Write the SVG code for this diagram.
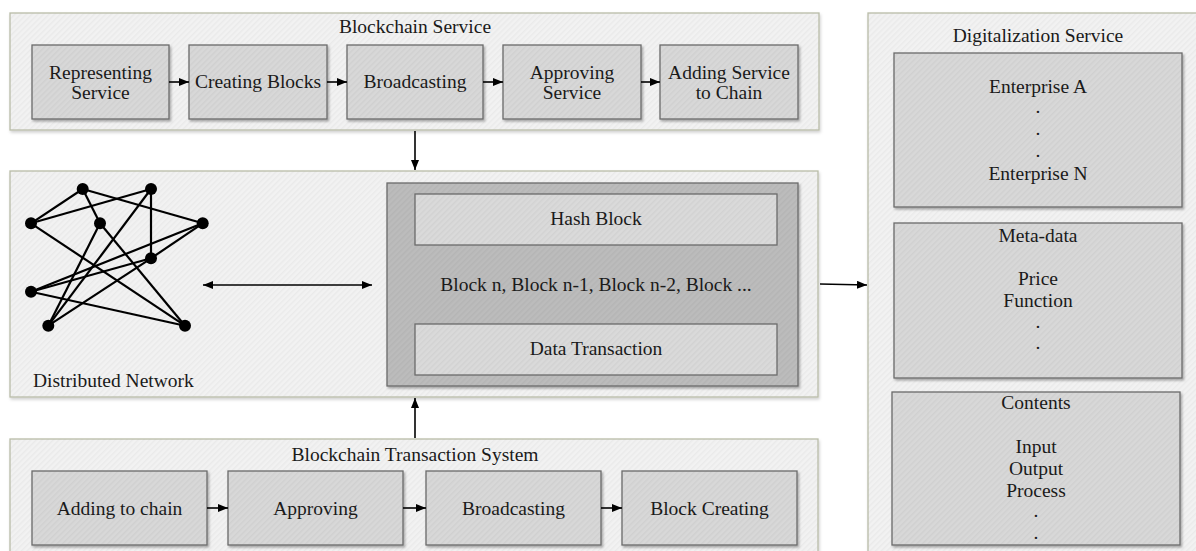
<svg xmlns="http://www.w3.org/2000/svg" width="1196" height="551" viewBox="0 0 1196 551">
  <defs>
    <style>
      text { font-family: "Liberation Serif", "Times New Roman", serif; font-size: 19.5px; fill: #1a1a1a; text-anchor: middle; }
      .panel { fill: url(#hatchLight); stroke: #b9bca8; stroke-width: 1.3; filter: url(#shadowSoft); }
      .box { fill: url(#hatchMid); stroke: #6a6a6a; stroke-width: 1.3; filter: url(#shadow); }
      .dark { fill: url(#hatchDark); stroke: #6a6a6a; stroke-width: 1.3; filter: url(#shadow); }
      .inner { fill: url(#hatchInner); stroke: #6a6a6a; stroke-width: 1.3; }
      .conn { stroke: #000; stroke-width: 1.6; fill: none; }
      .edge { stroke: #000; stroke-width: 2.2; }
      .vertex { fill: #000; }
    </style>
    <pattern id="hatchLight" width="4" height="4" patternUnits="userSpaceOnUse" patternTransform="rotate(45)">
      <rect width="4" height="4" fill="#f2f2f2"/>
      <rect width="1.5" height="4" fill="#eaeaea"/>
    </pattern>
    <pattern id="hatchMid" width="4" height="4" patternUnits="userSpaceOnUse" patternTransform="rotate(45)">
      <rect width="4" height="4" fill="#d8d8d8"/>
      <rect width="1.5" height="4" fill="#d0d0d0"/>
    </pattern>
    <pattern id="hatchDark" width="4" height="4" patternUnits="userSpaceOnUse" patternTransform="rotate(45)">
      <rect width="4" height="4" fill="#bcbcbc"/>
      <rect width="1.5" height="4" fill="#b5b5b5"/>
    </pattern>
    <pattern id="hatchInner" width="4" height="4" patternUnits="userSpaceOnUse" patternTransform="rotate(45)">
      <rect width="4" height="4" fill="#dadada"/>
      <rect width="1.5" height="4" fill="#d2d2d2"/>
    </pattern>
    <filter id="shadow" x="-5%" y="-5%" width="115%" height="125%">
      <feDropShadow dx="1.5" dy="2" stdDeviation="1.2" flood-color="#000" flood-opacity="0.3"/>
    </filter>
    <filter id="shadowSoft" x="-5%" y="-5%" width="115%" height="125%">
      <feDropShadow dx="1" dy="2" stdDeviation="1.5" flood-color="#000" flood-opacity="0.18"/>
    </filter>
    <marker id="arrow" viewBox="0 0 10 8" refX="10" refY="4" markerWidth="10" markerHeight="8" markerUnits="userSpaceOnUse" orient="auto-start-reverse">
      <path d="M0,0 L10,4 L0,8 z" fill="#000"/>
    </marker>
  </defs>

  <!-- Blockchain Service panel -->
  <g id="blockchain-service">
    <rect class="panel" x="10" y="13" width="809" height="117"/>
    <text x="415" y="33">Blockchain Service</text>
  </g>
  <g id="representing-service">
    <rect class="box" x="32" y="45" width="137" height="74"/>
    <text x="100.5" y="79">Representing</text>
    <text x="100.5" y="99">Service</text>
  </g>
  <g id="creating-blocks">
    <rect class="box" x="189" y="45" width="138" height="74"/>
    <text x="258" y="88">Creating Blocks</text>
  </g>
  <g id="broadcasting-top">
    <rect class="box" x="347" y="45" width="136" height="74"/>
    <text x="415" y="88">Broadcasting</text>
  </g>
  <g id="approving-service">
    <rect class="box" x="503" y="45" width="138" height="74"/>
    <text x="572" y="79">Approving</text>
    <text x="572" y="99">Service</text>
  </g>
  <g id="adding-service">
    <rect class="box" x="660" y="45" width="138" height="74"/>
    <text x="729" y="79">Adding Service</text>
    <text x="729" y="99">to Chain</text>
  </g>

  <!-- Distributed Network panel -->
  <g id="distributed-network">
    <rect class="panel" x="10" y="171" width="808" height="226"/>
    <text x="33" y="387" style="text-anchor:start">Distributed Network</text>
    <g id="network-graph">
      <line class="edge" x1="82.7" y1="189" x2="31" y2="223.3"/>
      <line class="edge" x1="82.7" y1="189" x2="100" y2="223.3"/>
      <line class="edge" x1="82.7" y1="189" x2="202.7" y2="223.3"/>
      <line class="edge" x1="151" y1="189" x2="31" y2="223.3"/>
      <line class="edge" x1="151" y1="189" x2="151" y2="258.3"/>
      <line class="edge" x1="151" y1="189" x2="48.3" y2="325.7"/>
      <line class="edge" x1="31" y1="223.3" x2="185" y2="325.7"/>
      <line class="edge" x1="100" y1="223.3" x2="48.3" y2="325.7"/>
      <line class="edge" x1="100" y1="223.3" x2="185" y2="325.7"/>
      <line class="edge" x1="202.7" y1="223.3" x2="31" y2="291.7"/>
      <line class="edge" x1="202.7" y1="223.3" x2="151" y2="258.3"/>
      <line class="edge" x1="151" y1="258.3" x2="31" y2="291.7"/>
      <line class="edge" x1="151" y1="258.3" x2="48.3" y2="325.7"/>
      <line class="edge" x1="31" y1="291.7" x2="185" y2="325.7"/>
      <circle class="vertex" cx="82.7" cy="189" r="6"/>
      <circle class="vertex" cx="151" cy="189" r="6"/>
      <circle class="vertex" cx="31" cy="223.3" r="6"/>
      <circle class="vertex" cx="100" cy="223.3" r="6"/>
      <circle class="vertex" cx="202.7" cy="223.3" r="6"/>
      <circle class="vertex" cx="151" cy="258.3" r="6"/>
      <circle class="vertex" cx="31" cy="291.7" r="6"/>
      <circle class="vertex" cx="48.3" cy="325.7" r="6"/>
      <circle class="vertex" cx="185" cy="325.7" r="6"/>
    </g>
  </g>
  <g id="block-store">
    <rect class="dark" x="387" y="183" width="411" height="203"/>
    <text x="596" y="291">Block n, Block n-1, Block n-2, Block ...</text>
  </g>
  <g id="hash-block">
    <rect class="inner" x="415" y="194" width="362" height="51"/>
    <text x="596" y="225">Hash Block</text>
  </g>
  <g id="data-transaction">
    <rect class="inner" x="415" y="324" width="362" height="51"/>
    <text x="596" y="355">Data Transaction</text>
  </g>

  <!-- Blockchain Transaction System panel -->
  <g id="transaction-system">
    <rect class="panel" x="10" y="439" width="808" height="130"/>
    <text x="415" y="461">Blockchain Transaction System</text>
  </g>
  <g id="adding-to-chain">
    <rect class="box" x="32" y="471" width="175" height="74"/>
    <text x="119.5" y="515">Adding to chain</text>
  </g>
  <g id="approving">
    <rect class="box" x="228" y="471" width="175" height="74"/>
    <text x="315.5" y="515">Approving</text>
  </g>
  <g id="broadcasting-bottom">
    <rect class="box" x="426" y="471" width="175" height="74"/>
    <text x="513.5" y="515">Broadcasting</text>
  </g>
  <g id="block-creating">
    <rect class="box" x="622" y="471" width="175" height="74"/>
    <text x="709.5" y="515">Block Creating</text>
  </g>

  <!-- Digitalization Service panel -->
  <g id="digitalization-service">
    <rect class="panel" x="868" y="13" width="345" height="560"/>
    <text x="1038" y="42">Digitalization Service</text>
  </g>
  <g id="enterprises">
    <rect class="box" x="894" y="53" width="288" height="154"/>
    <text x="1038" y="93">Enterprise A</text>
    <text x="1038" y="113">.</text>
    <text x="1038" y="135">.</text>
    <text x="1038" y="157">.</text>
    <text x="1038" y="180">Enterprise N</text>
  </g>
  <g id="meta-data">
    <rect class="box" x="894" y="223" width="288" height="155"/>
    <text x="1038" y="242">Meta-data</text>
    <text x="1038" y="285">Price</text>
    <text x="1038" y="307">Function</text>
    <text x="1038" y="328">.</text>
    <text x="1038" y="349">.</text>
  </g>
  <g id="contents">
    <rect class="box" x="892" y="392" width="288" height="153"/>
    <text x="1036" y="409">Contents</text>
    <text x="1036" y="453">Input</text>
    <text x="1036" y="474.5">Output</text>
    <text x="1036" y="496.5">Process</text>
    <text x="1036" y="517">.</text>
    <text x="1036" y="539">.</text>
  </g>

  <!-- Connectors -->
  <g id="connectors">
    <line class="conn" x1="169" y1="82" x2="189" y2="82" marker-end="url(#arrow)"/>
    <line class="conn" x1="327" y1="82" x2="347" y2="82" marker-end="url(#arrow)"/>
    <line class="conn" x1="483" y1="82" x2="503" y2="82" marker-end="url(#arrow)"/>
    <line class="conn" x1="641" y1="82" x2="660" y2="82" marker-end="url(#arrow)"/>
    <line class="conn" x1="415" y1="131" x2="415" y2="170" marker-end="url(#arrow)"/>
    <line class="conn" x1="203" y1="285" x2="372" y2="285" marker-start="url(#arrow)" marker-end="url(#arrow)"/>
    <line class="conn" x1="820" y1="284" x2="867" y2="285" marker-end="url(#arrow)"/>
    <line class="conn" x1="415" y1="438" x2="415" y2="398" marker-end="url(#arrow)"/>
    <line class="conn" x1="207" y1="508" x2="228" y2="508" marker-end="url(#arrow)"/>
    <line class="conn" x1="403" y1="508" x2="426" y2="508" marker-end="url(#arrow)"/>
    <line class="conn" x1="601" y1="508" x2="622" y2="508" marker-end="url(#arrow)"/>
  </g>
</svg>
